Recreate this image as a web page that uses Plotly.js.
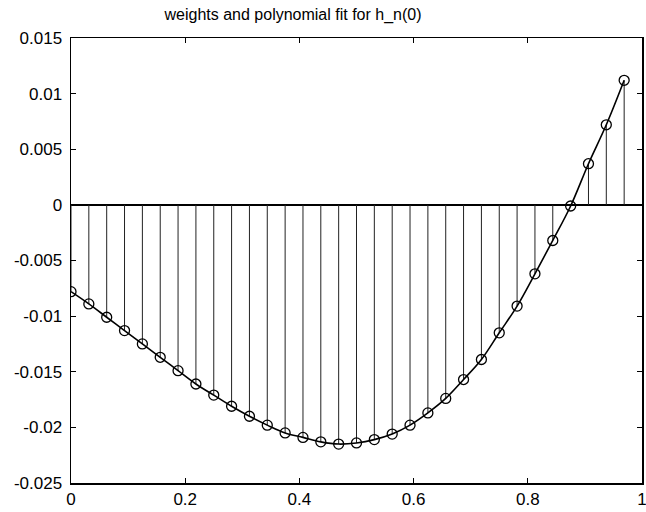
<!DOCTYPE html>
<html>
<head>
<meta charset="utf-8">
<script src="https://cdn.plot.ly/plotly-3.0.1.min.js"></script>
<style>html,body{margin:0;padding:0;background:#fff;}#chart{width:646px;height:512px;}</style>
</head>
<body>
<div id="chart"></div>
<script>
// sample positions k/32, k = 0..31
var xValues = [0, 0.03125, 0.0625, 0.09375, 0.125, 0.15625, 0.1875, 0.21875,
  0.25, 0.28125, 0.3125, 0.34375, 0.375, 0.40625, 0.4375, 0.46875,
  0.5, 0.53125, 0.5625, 0.59375, 0.625, 0.65625, 0.6875, 0.71875,
  0.75, 0.78125, 0.8125, 0.84375, 0.875, 0.90625, 0.9375, 0.96875];
var weights = [-0.0078, -0.0089, -0.0101, -0.0113, -0.0125, -0.0137, -0.0149, -0.0161,
  -0.0171, -0.0181, -0.0190, -0.0198, -0.0205, -0.0209, -0.0213, -0.0215,
  -0.0214, -0.0211, -0.0206, -0.0198, -0.0187, -0.0174, -0.0157, -0.0139,
  -0.0115, -0.0091, -0.0062, -0.0032, -0.0001, 0.0037, 0.0072, 0.0112];
var xTickVals = [0, 0.2, 0.4, 0.6, 0.8, 1];
var xTickText = ["0", "0.2", "0.4", "0.6", "0.8", "1"];
var yTickVals = [-0.025, -0.02, -0.015, -0.01, -0.005, 0, 0.005, 0.01, 0.015];
var yTickText = ["-0.025", "-0.02", "-0.015", "-0.01", "-0.005", "0", "0.005", "0.01", "0.015"];
var titleText = "weights and polynomial fit for h_n(0)";

// stems built from the data
var stemX = [], stemY = [];
for (var i = 0; i < xValues.length; i++) {
  stemX.push(xValues[i], xValues[i], null);
  stemY.push(0, weights[i], null);
}

var traces = [
  {x: stemX, y: stemY, mode: 'lines', line: {color: '#222', width: 1}, hoverinfo: 'skip', showlegend: false},
  {x: xValues, y: weights, mode: 'lines', line: {color: '#000', width: 1.6, shape: 'spline'}, showlegend: false},
  {x: xValues, y: weights, mode: 'markers', marker: {symbol: 'circle-open', size: 10, color: '#000', line: {width: 1.3, color: '#000'}}, showlegend: false}
];

var axisFont = {family: 'Liberation Sans, Arial, sans-serif', size: 17, color: '#000'};
var layout = {
  width: 646, height: 512,
  margin: {l: 71, r: 4, t: 38, b: 29, autoexpand: false},
  paper_bgcolor: '#fff', plot_bgcolor: '#fff',
  showlegend: false,
  title: {text: titleText, x: 0.4536, xref: 'container', xanchor: 'center', y: 0.972, yref: 'container', yanchor: 'middle',
    font: {family: 'Liberation Sans, Arial, sans-serif', size: 16, color: '#000'}},
  xaxis: {range: [0, 1], tickvals: xTickVals, ticktext: xTickText, ticks: 'inside', ticklen: 5, tickwidth: 1,
    tickcolor: '#000', showline: true, linecolor: '#000', linewidth: 1.5, mirror: 'ticks', showgrid: false,
    zeroline: false, tickfont: axisFont, ticklabeloverflow: 'allow', automargin: false},
  yaxis: {range: [-0.025, 0.015], tickvals: yTickVals, ticktext: yTickText, ticks: 'inside', ticklen: 5, tickwidth: 1,
    tickcolor: '#000', showline: true, linecolor: '#000', linewidth: 1.5, mirror: 'ticks', showgrid: false,
    zeroline: true, zerolinecolor: '#000', zerolinewidth: 1.5, tickfont: axisFont, ticklabelstandoff: 4,
    ticklabeloverflow: 'allow', automargin: false}
};
Plotly.newPlot('chart', traces, layout, {displayModeBar: false, staticPlot: true});
</script>
</body>
</html>
